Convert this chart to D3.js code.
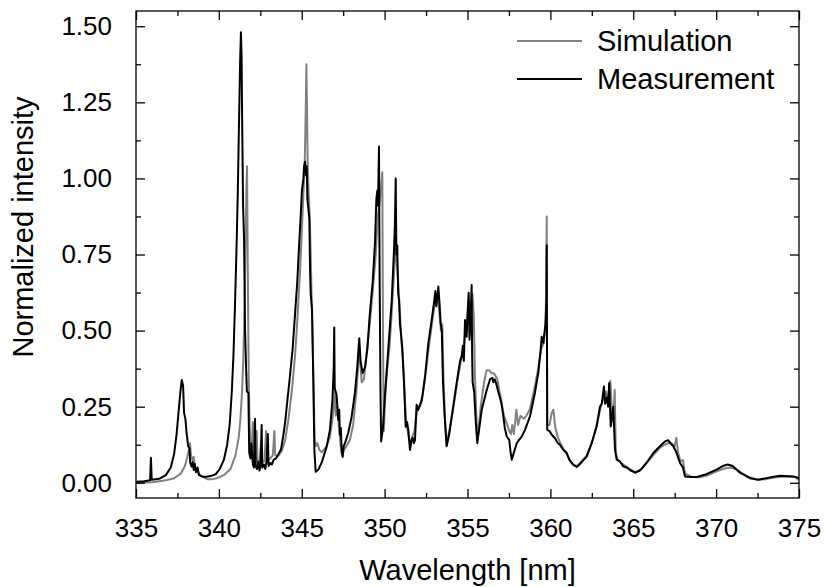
<!DOCTYPE html>
<html>
<head>
<meta charset="utf-8">
<title>Normalized intensity vs wavelength</title>
<style>
    body { margin: 0; background: #fff; }
    svg text { font-family: "Liberation Sans", Arial, sans-serif; fill: #000; }
    .frame { fill: none; stroke: #000; stroke-width: 1.3px; }
    .tick-line { stroke: #000; stroke-width: 1.3px; }
</style>
</head>
<body>
<div class="viz"></div>
<script src="https://cdnjs.cloudflare.com/ajax/libs/d3/7.8.5/d3.min.js"></script>
<script>
// [wavelength nm, normalized intensity]
var simulation = [
    [335.00,0.000],[336.00,0.002],[336.80,0.008],[337.30,0.015],[337.70,0.030],[337.95,0.055],
    [338.10,0.085],[338.20,0.110],[338.26,0.130],[338.32,0.090],[338.40,0.075],[338.48,0.085],
    [338.55,0.050],[338.65,0.040],[338.80,0.030],[339.00,0.020],[339.30,0.012],[339.60,0.012],
    [339.90,0.015],[340.30,0.025],[340.70,0.045],[341.00,0.090],[341.20,0.150],[341.30,0.210],
    [341.40,0.300],[341.48,0.420],[341.55,0.580],[341.61,0.800],[341.66,0.970],[341.70,1.040],
    [341.73,0.800],[341.76,0.600],[341.80,0.350],[341.85,0.200],[341.90,0.120],[341.98,0.100],
    [342.05,0.200],[342.10,0.070],[342.20,0.065],[342.28,0.170],[342.33,0.070],[342.45,0.065],
    [342.55,0.140],[342.60,0.070],[342.75,0.070],[342.85,0.170],[342.90,0.075],[343.10,0.080],
    [343.25,0.090],[343.35,0.170],[343.40,0.090],[343.60,0.090],[343.80,0.105],[344.00,0.140],
    [344.20,0.210],[344.40,0.300],[344.60,0.420],[344.75,0.550],[344.90,0.700],[345.00,0.820],
    [345.10,0.950],[345.18,1.050],[345.24,1.220],[345.28,1.375],[345.32,1.220],[345.36,1.040],
    [345.42,0.950],[345.48,0.880],[345.54,0.750],[345.60,0.600],[345.66,0.450],[345.72,0.300],
    [345.78,0.150],[345.85,0.120],[345.95,0.130],[346.05,0.110],[346.20,0.100],[346.50,0.120],
    [346.70,0.150],[346.85,0.210],[346.95,0.260],[347.00,0.300],[347.05,0.220],[347.15,0.250],
    [347.25,0.180],[347.35,0.120],[347.45,0.090],[347.55,0.110],[347.70,0.120],[347.90,0.140],
    [348.10,0.190],[348.30,0.300],[348.45,0.420],[348.52,0.400],[348.62,0.330],[348.75,0.340],
    [348.90,0.420],[349.10,0.520],[349.30,0.640],[349.45,0.740],[349.60,0.880],[349.70,0.920],
    [349.80,0.980],[349.86,1.020],[349.90,0.500],[349.95,0.170],[350.05,0.300],[350.15,0.370],
    [350.30,0.450],[350.45,0.580],[350.58,0.700],[350.66,0.800],[350.72,0.730],[350.80,0.680],
    [350.90,0.580],[351.00,0.480],[351.10,0.400],[351.20,0.300],[351.30,0.200],[351.45,0.150],
    [351.55,0.120],[351.65,0.150],[351.80,0.170],[351.93,0.230],[352.10,0.250],[352.30,0.290],
    [352.50,0.370],[352.70,0.460],[352.90,0.540],[353.05,0.600],[353.20,0.620],[353.30,0.560],
    [353.40,0.500],[353.48,0.520],[353.55,0.350],[353.65,0.200],[353.74,0.130],[353.90,0.170],
    [354.10,0.230],[354.35,0.320],[354.60,0.400],[354.80,0.460],[354.95,0.520],[355.10,0.600],
    [355.20,0.550],[355.30,0.620],[355.38,0.550],[355.45,0.350],[355.55,0.200],[355.62,0.150],
    [355.80,0.250],[356.00,0.330],[356.15,0.370],[356.30,0.370],[356.45,0.360],[356.60,0.360],
    [356.80,0.340],[357.00,0.280],[357.20,0.220],[357.40,0.190],[357.52,0.170],[357.62,0.160],
    [357.70,0.190],[357.80,0.160],[357.95,0.240],[358.05,0.190],[358.20,0.220],[358.40,0.210],
    [358.55,0.220],[358.75,0.240],[359.00,0.300],[359.25,0.370],[359.45,0.440],[359.60,0.460],
    [359.72,0.520],[359.78,0.875],[359.81,0.190],[359.95,0.190],[360.08,0.230],[360.18,0.240],
    [360.30,0.180],[360.45,0.150],[360.60,0.130],[360.80,0.110],[361.00,0.095],[361.20,0.070],
    [361.40,0.060],[361.60,0.055],[361.80,0.065],[362.20,0.090],[362.50,0.130],[362.80,0.190],
    [363.00,0.240],[363.20,0.280],[363.35,0.300],[363.45,0.270],[363.55,0.310],[363.62,0.335],
    [363.70,0.250],[363.80,0.200],[363.88,0.305],[363.95,0.100],[364.05,0.075],[364.40,0.060],
    [364.80,0.045],[365.10,0.035],[365.50,0.045],[365.80,0.065],[366.20,0.090],[366.60,0.115],
    [366.90,0.125],[367.10,0.130],[367.30,0.130],[367.50,0.120],[367.60,0.148],[367.70,0.100],
    [367.85,0.070],[368.00,0.075],[368.12,0.030],[368.50,0.020],[369.00,0.018],[369.50,0.025],
    [370.00,0.037],[370.40,0.045],[370.80,0.050],[371.20,0.045],[371.60,0.030],[372.00,0.018],
    [372.50,0.010],[373.00,0.012],[373.60,0.018],[374.20,0.021],[374.70,0.020],[375.00,0.010]
];

var measurement = [
    [335.00,0.003],[335.50,0.005],[335.85,0.008],[335.90,0.082],[335.95,0.010],[336.40,0.013],
    [336.80,0.025],[337.10,0.050],[337.30,0.095],[337.45,0.160],[337.58,0.240],[337.68,0.300],
    [337.76,0.338],[337.84,0.320],[337.90,0.230],[337.98,0.210],[338.05,0.165],[338.15,0.120],
    [338.22,0.115],[338.27,0.066],[338.36,0.053],[338.42,0.068],[338.48,0.042],[338.55,0.062],
    [338.62,0.035],[338.72,0.050],[338.80,0.025],[338.95,0.022],[339.05,0.020],[339.25,0.020],
    [339.50,0.022],[339.80,0.028],[340.05,0.045],[340.30,0.075],[340.50,0.125],[340.65,0.190],
    [340.78,0.300],[340.88,0.420],[340.97,0.580],[341.06,0.760],[341.14,0.950],[341.22,1.200],
    [341.28,1.380],[341.33,1.480],[341.37,1.400],[341.41,1.160],[341.46,0.910],[341.52,0.800],
    [341.58,0.500],[341.64,0.380],[341.69,0.300],[341.78,0.295],[341.83,0.100],[341.90,0.080],
    [341.96,0.130],[342.05,0.060],[342.12,0.050],[342.18,0.210],[342.22,0.055],[342.30,0.045],
    [342.38,0.070],[342.45,0.040],[342.52,0.060],[342.58,0.190],[342.62,0.050],[342.72,0.060],
    [342.80,0.045],[342.88,0.070],[342.95,0.160],[343.00,0.055],[343.10,0.065],[343.20,0.060],
    [343.30,0.075],[343.45,0.080],[343.60,0.095],[343.75,0.110],[343.90,0.160],[344.00,0.200],
    [344.15,0.280],[344.25,0.330],[344.45,0.440],[344.59,0.550],[344.73,0.660],[344.83,0.770],
    [344.94,0.880],[345.01,0.960],[345.10,1.000],[345.14,1.040],[345.20,1.055],[345.26,1.010],
    [345.30,1.040],[345.34,0.930],[345.40,0.900],[345.46,0.865],[345.50,0.700],[345.54,0.620],
    [345.62,0.570],[345.70,0.330],[345.76,0.110],[345.84,0.036],[346.00,0.043],[346.20,0.066],
    [346.50,0.118],[346.70,0.174],[346.85,0.270],[346.93,0.380],[346.96,0.510],[346.99,0.310],
    [347.10,0.290],[347.20,0.207],[347.26,0.240],[347.30,0.158],[347.36,0.180],[347.41,0.100],
    [347.47,0.085],[347.53,0.120],[347.61,0.130],[347.81,0.165],[348.01,0.217],[348.21,0.296],
    [348.35,0.380],[348.47,0.475],[348.55,0.400],[348.67,0.360],[348.82,0.380],[348.96,0.440],
    [349.10,0.550],[349.28,0.660],[349.42,0.790],[349.50,0.930],[349.56,0.960],[349.60,0.910],
    [349.66,1.105],[349.70,0.660],[349.75,0.300],[349.79,0.136],[349.90,0.180],[350.00,0.270],
    [350.22,0.440],[350.43,0.600],[350.57,0.770],[350.62,0.850],[350.67,1.000],[350.71,0.750],
    [350.76,0.780],[350.82,0.620],[350.87,0.600],[350.93,0.520],[350.97,0.500],[351.02,0.470],
    [351.07,0.440],[351.17,0.330],[351.27,0.184],[351.35,0.200],[351.43,0.174],[351.53,0.108],
    [351.62,0.140],[351.69,0.148],[351.76,0.130],[351.83,0.140],[351.93,0.256],[352.03,0.240],
    [352.24,0.270],[352.44,0.350],[352.64,0.460],[352.84,0.535],[353.00,0.600],[353.06,0.630],
    [353.12,0.580],[353.24,0.645],[353.30,0.600],[353.38,0.525],[353.45,0.500],[353.52,0.330],
    [353.62,0.220],[353.74,0.120],[353.90,0.160],[354.05,0.218],[354.35,0.330],[354.55,0.400],
    [354.65,0.415],[354.72,0.450],[354.78,0.400],[354.85,0.535],[354.95,0.480],[355.00,0.550],
    [355.07,0.624],[355.12,0.470],[355.18,0.520],[355.25,0.650],[355.28,0.420],[355.31,0.330],
    [355.40,0.300],[355.50,0.200],[355.59,0.130],[355.86,0.240],[356.16,0.305],[356.36,0.340],
    [356.50,0.345],[356.56,0.330],[356.65,0.340],[356.76,0.320],[356.85,0.300],[356.96,0.280],
    [357.05,0.260],[357.16,0.220],[357.25,0.180],[357.37,0.152],[357.52,0.141],[357.60,0.100],
    [357.67,0.076],[357.97,0.130],[358.10,0.140],[358.27,0.152],[358.47,0.174],[358.77,0.218],
    [359.07,0.296],[359.27,0.360],[359.40,0.430],[359.48,0.480],[359.57,0.460],[359.70,0.520],
    [359.76,0.600],[359.78,0.780],[359.81,0.174],[359.95,0.170],[360.05,0.160],[360.18,0.152],
    [360.30,0.145],[360.45,0.130],[360.58,0.125],[360.75,0.110],[360.98,0.098],[361.15,0.075],
    [361.38,0.059],[361.59,0.052],[361.79,0.062],[362.19,0.086],[362.49,0.130],[362.79,0.185],
    [362.90,0.220],[362.99,0.250],[363.10,0.260],[363.23,0.316],[363.30,0.260],[363.40,0.280],
    [363.48,0.250],[363.55,0.328],[363.64,0.185],[363.72,0.220],[363.79,0.250],[363.90,0.108],
    [364.00,0.076],[364.20,0.070],[364.40,0.054],[364.60,0.050],[364.80,0.042],[365.11,0.033],
    [365.40,0.040],[365.81,0.066],[366.21,0.098],[366.61,0.120],[366.92,0.136],[367.10,0.140],
    [367.25,0.130],[367.42,0.120],[367.60,0.100],[367.82,0.065],[368.00,0.050],[368.12,0.021],
    [368.50,0.019],[368.83,0.019],[369.40,0.028],[370.03,0.043],[370.40,0.055],[370.70,0.060],
    [371.00,0.055],[371.44,0.033],[372.04,0.015],[372.54,0.010],[373.20,0.017],[373.85,0.023],
    [374.66,0.021],[375.00,0.016]
];

var xTicks = [335, 340, 345, 350, 355, 360, 365, 370, 375];
var yTicks = [0, 0.25, 0.5, 0.75, 1.0, 1.25, 1.5];
var seriesNames = ["Simulation", "Measurement"];
var seriesColors = ["#808080", "#000000"];

var width = 824, height = 587;
var plot = {left: 136, right: 799, top: 11, bottom: 498};

var svg = d3.select('.viz').append('svg')
    .attr('width', width)
    .attr('height', height);

var x = d3.scaleLinear().domain([335, 375]).range([plot.left, plot.right]);
var y = d3.scaleLinear().domain([-0.05, 1.55]).range([plot.bottom, plot.top]);

svg.append('clipPath').attr('id', 'clip')
    .append('rect')
    .attr('x', plot.left).attr('y', plot.top)
    .attr('width', plot.right - plot.left)
    .attr('height', plot.bottom - plot.top);

var line = d3.line()
    .x(function (d) { return x(d[0]); })
    .y(function (d) { return y(d[1]); });

var g = svg.append('g').attr('clip-path', 'url(#clip)');

[simulation, measurement].forEach(function (data, i) {
    g.append('path')
        .datum(data)
        .attr('d', line)
        .attr('fill', 'none')
        .attr('stroke', seriesColors[i])
        .attr('stroke-width', 2)
        .attr('stroke-linejoin', 'round');
});

// axes: inward ticks on all four sides
var majLen = 9, minLen = 5;
var xMinor = d3.range(337.5, 375, 5);
var yMinor = d3.range(0.125, 1.55, 0.25);

svg.append('g')
    .attr('transform', 'translate(0,' + plot.bottom + ')')
    .call(d3.axisBottom(x).tickValues(xTicks).tickSize(-majLen).tickPadding(majLen + 12)
        .tickFormat(d3.format('d')))
    .call(styleAxis, 26);
svg.append('g')
    .attr('transform', 'translate(0,' + plot.bottom + ')')
    .call(d3.axisBottom(x).tickValues(xMinor).tickSize(-minLen).tickFormat(''))
    .call(styleAxis);
svg.append('g')
    .attr('transform', 'translate(0,' + plot.top + ')')
    .call(d3.axisTop(x).tickValues(xTicks).tickSize(-majLen).tickFormat(''))
    .call(styleAxis);
svg.append('g')
    .attr('transform', 'translate(0,' + plot.top + ')')
    .call(d3.axisTop(x).tickValues(xMinor).tickSize(-minLen).tickFormat(''))
    .call(styleAxis);

svg.append('g')
    .attr('transform', 'translate(' + plot.left + ',0)')
    .call(d3.axisLeft(y).tickValues(yTicks).tickSize(-majLen).tickPadding(majLen + 15)
        .tickFormat(d3.format('.2f')))
    .call(styleAxis, 26);
svg.append('g')
    .attr('transform', 'translate(' + plot.left + ',0)')
    .call(d3.axisLeft(y).tickValues(yMinor).tickSize(-minLen).tickFormat(''))
    .call(styleAxis);
svg.append('g')
    .attr('transform', 'translate(' + plot.right + ',0)')
    .call(d3.axisRight(y).tickValues(yTicks).tickSize(-majLen).tickFormat(''))
    .call(styleAxis);
svg.append('g')
    .attr('transform', 'translate(' + plot.right + ',0)')
    .call(d3.axisRight(y).tickValues(yMinor).tickSize(-minLen).tickFormat(''))
    .call(styleAxis);

function styleAxis(sel, fontSize) {
    sel.select('.domain').remove();
    sel.selectAll('.tick line').attr('class', 'tick-line');
    sel.selectAll('.tick text')
        .style('font-family', '"Liberation Sans", Arial, sans-serif')
        .style('font-size', (fontSize || 10) + 'px')
        .attr('fill', '#000');
}

svg.append('rect')
    .attr('class', 'frame')
    .attr('x', plot.left).attr('y', plot.top)
    .attr('width', plot.right - plot.left)
    .attr('height', plot.bottom - plot.top);

// axis titles
svg.append('text')
    .attr('x', (plot.left + plot.right) / 2)
    .attr('y', 580)
    .attr('text-anchor', 'middle')
    .style('font-size', '29px')
    .text('Wavelength [nm]');

svg.append('text')
    .attr('transform', 'translate(33,' + 227 + ')rotate(-90)')
    .attr('text-anchor', 'middle')
    .style('font-size', '29px')
    .text('Normalized intensity');

// legend
var legend = svg.append('g').selectAll('.legend')
    .data(seriesNames)
    .enter().append('g')
    .attr('transform', function (d, i) { return 'translate(517,' + (41 + i * 38) + ')'; });

legend.append('line')
    .attr('x1', 0).attr('x2', 65)
    .attr('y1', 0).attr('y2', 0)
    .attr('stroke', function (d, i) { return seriesColors[i]; })
    .attr('stroke-width', 2);

legend.append('text')
    .attr('x', 80)
    .attr('y', 0)
    .attr('dy', '0.35em')
    .style('font-size', '29px')
    .text(function (d) { return d; });
</script>
</body>
</html>
